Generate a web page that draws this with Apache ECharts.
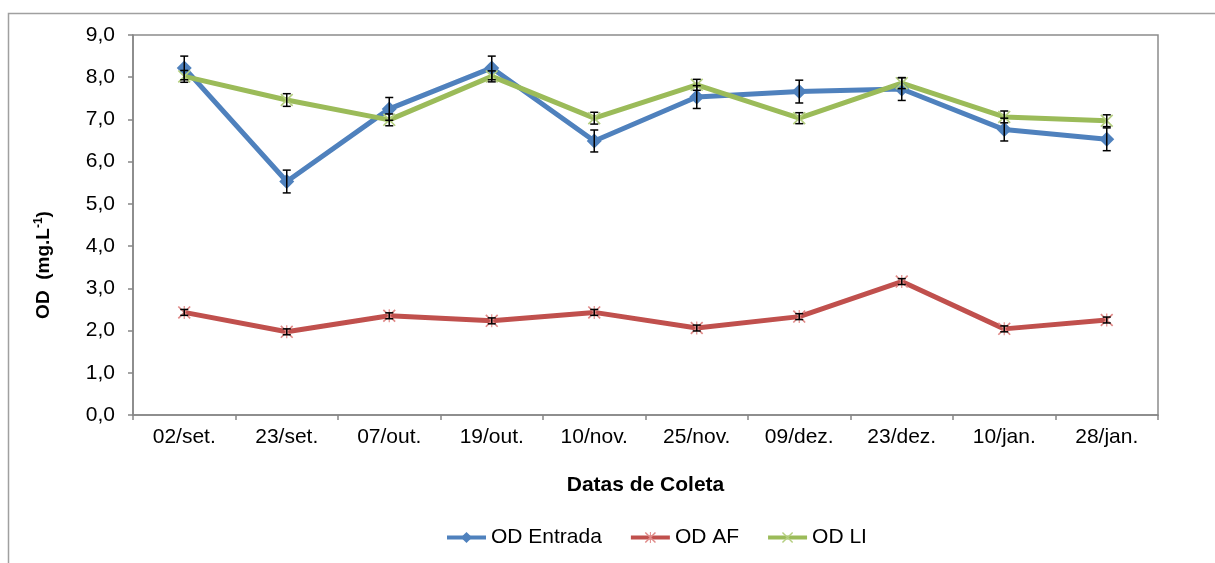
<!DOCTYPE html>
<html>
<head>
<meta charset="utf-8">
<script src="https://cdn.jsdelivr.net/npm/echarts@6/dist/echarts.min.js"></script>
<style>
html,body{margin:0;padding:0;background:#fff;}
#chart{width:1215px;height:563px;}
</style>
</head>
<body>
<div id="chart"></div>
<script>
const categories = ['02/set.','23/set.','07/out.','19/out.','10/nov.','25/nov.','09/dez.','23/dez.','10/jan.','28/jan.'];
const odEntrada = [8.22, 5.53, 7.25, 8.22, 6.49, 7.53, 7.66, 7.72, 6.76, 6.53];
const odEntradaErr = [0.28, 0.27, 0.27, 0.28, 0.26, 0.27, 0.27, 0.27, 0.27, 0.27];
const odAF = [2.43, 1.97, 2.35, 2.23, 2.43, 2.06, 2.33, 3.16, 2.04, 2.25];
const odAFErr = [0.07, 0.07, 0.07, 0.07, 0.07, 0.07, 0.07, 0.07, 0.07, 0.07];
const odLI = [8.02, 7.46, 6.99, 8.02, 7.03, 7.82, 7.03, 7.86, 7.06, 6.97];
const odLIErr = [0.14, 0.15, 0.14, 0.13, 0.14, 0.13, 0.13, 0.13, 0.14, 0.14];
const yTicks = [0,1,2,3,4,5,6,7,8,9];

const FONT = "'Liberation Sans', Arial, sans-serif";
const BLUE = '#4F81BD', RED = '#C0504D', GREEN = '#9BBB59';
const xPath = 'path://M0,1 L1,0 L11,10 L10,11 Z M10,0 L11,1 L1,11 L0,10 Z';
const starPath = 'path://M0,1 L1,0 L11,10 L10,11 Z M10,0 L11,1 L1,11 L0,10 Z M5,0 L6,0 L6,11 L5,11 Z';

function errData(vals, errs){
  return vals.map((v,i)=>[i, v-errs[i], v+errs[i]]);
}
function errSeries(vals, errs){
  return {
    type:'custom',
    z: 10,
    silent:true,
    data: errData(vals, errs),
    encode:{x:0, y:[1,2]},
    renderItem: function(params, api){
      const i = api.value(0);
      const lo = api.coord([i, api.value(1)]);
      const hi = api.coord([i, api.value(2)]);
      const cap = 4;
      const st = {stroke:'#000', lineWidth:1.5};
      return {type:'group', children:[
        {type:'line', shape:{x1:lo[0],y1:lo[1],x2:hi[0],y2:hi[1]}, style:st},
        {type:'line', shape:{x1:lo[0]-cap,y1:lo[1],x2:lo[0]+cap,y2:lo[1]}, style:st},
        {type:'line', shape:{x1:hi[0]-cap,y1:hi[1],x2:hi[0]+cap,y2:hi[1]}, style:st}
      ]};
    }
  };
}

const chart = echarts.init(document.getElementById('chart'), null, {renderer:'canvas'});
chart.setOption({
  animation:false,
  textStyle:{fontFamily:FONT},
  grid:{left:133, right:57, top:35, bottom:148, show:true, borderColor:'#8C8C8C', borderWidth:1.5, backgroundColor:'transparent'},
  graphic:[
    {type:'rect', shape:{x:8.5, y:13.5, width:1400, height:800}, style:{fill:'none', stroke:'#A0A0A0', lineWidth:1.5}, z:-10, silent:true},
    {type:'text', x:44, y:265, rotation:Math.PI/2, silent:true,
      style:{text:'{b|OD  (mg.L}{s|-1}{b|)}', align:'center', verticalAlign:'middle',
        rich:{b:{fontFamily:FONT, fontWeight:'bold', fontSize:19, lineHeight:22, fill:'#000'},
              s:{fontFamily:FONT, fontWeight:'bold', fontSize:12, lineHeight:22, verticalAlign:'top', fill:'#000'}}}}
  ],
  legend:{
    left:445, top:527, padding:0, itemWidth:39, itemHeight:14, itemGap:27, itemTextGap:3,
    data:['OD Entrada','OD AF','OD LI'],
    lineStyle:{width:4},
    textStyle:{fontFamily:FONT, fontSize:21, color:'#000'}
  },
  xAxis:{
    type:'category', data:categories, boundaryGap:true,
    axisLine:{lineStyle:{color:'#868686', width:1.5}},
    axisTick:{show:true, length:5, alignWithLabel:false, lineStyle:{color:'#868686', width:1.5}},
    axisLabel:{color:'#000', fontSize:21, margin:12, fontFamily:FONT, interval:0},
    name:'Datas de Coleta', nameLocation:'middle', nameGap:60,
    nameTextStyle:{fontWeight:'bold', fontSize:21, color:'#000', fontFamily:FONT}
  },
  yAxis:{
    type:'value', min:0, max:9, interval:1,
    axisLine:{show:true, lineStyle:{color:'#868686', width:1.5}},
    axisTick:{show:true, length:5, lineStyle:{color:'#868686', width:1.5}},
    splitLine:{show:false},
    axisLabel:{color:'#000', fontSize:21, margin:18, fontFamily:FONT,
      formatter:function(v){ return yTicks.indexOf(v) >= 0 ? v.toFixed(1).replace('.', ',') : ''; }}
  },
  series:[
    {name:'OD Entrada', type:'line', data:odEntrada, symbol:'diamond', symbolSize:15,
      lineStyle:{color:BLUE, width:5}, itemStyle:{color:BLUE}, z:3},
    {name:'OD AF', type:'line', data:odAF, symbol:starPath, symbolSize:13,
      lineStyle:{color:RED, width:5}, itemStyle:{color:'#E08A88'}, z:3},
    {name:'OD LI', type:'line', data:odLI, symbol:xPath, symbolSize:13,
      lineStyle:{color:GREEN, width:5}, itemStyle:{color:'#B5CF80'}, z:3},
    errSeries(odEntrada, odEntradaErr),
    errSeries(odAF, odAFErr),
    errSeries(odLI, odLIErr)
  ]
});
</script>
</body>
</html>
